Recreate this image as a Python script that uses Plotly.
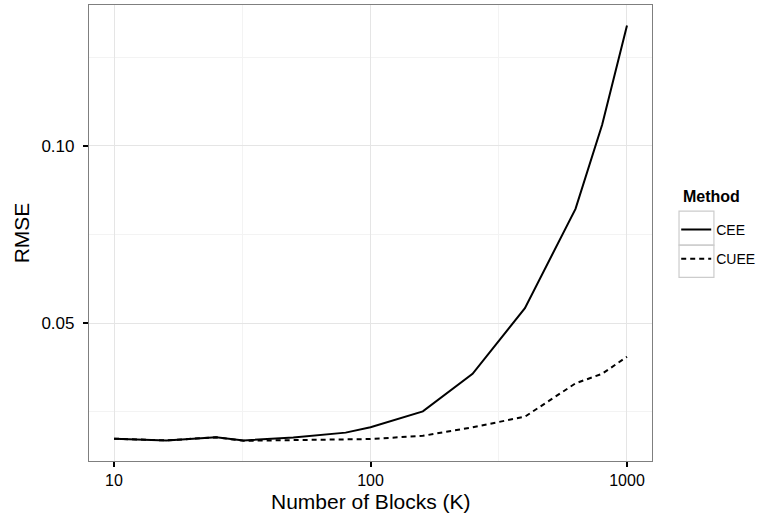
import plotly.graph_objects as go

# ---- data ----
blocks = [10, 16, 25, 32, 50, 63, 80, 100, 160, 250, 400, 630, 800, 1000]
rmse_cee = [0.0174, 0.0169, 0.0178, 0.0169, 0.0177, 0.0183, 0.0191, 0.0206, 0.0251,
            0.0357, 0.0542, 0.0822, 0.1059, 0.1339]
rmse_cuee = [0.0174, 0.0169, 0.0178, 0.0168, 0.0170, 0.0171, 0.0172, 0.0173, 0.0182,
             0.0206, 0.0236, 0.0330, 0.0357, 0.0405]
methods = ["CEE", "CUEE"]
legend_title = "Method"
x_title = "Number of Blocks (K)"
y_title = "RMSE"
x_ticks = [10, 100, 1000]
x_tick_labels = ["10", "100", "1000"]
y_ticks = [0.05, 0.10]
y_tick_labels = ["0.05", "0.10"]
x_minor = [31.6228, 316.228]
y_minor = [0.025, 0.075, 0.125]

FONT = "Liberation Sans, Arial, Helvetica, sans-serif"

fig = go.Figure()
fig.add_trace(go.Scatter(x=blocks, y=rmse_cee, mode="lines", name=methods[0],
                         legendgroup="a",
                         line=dict(color="black", width=2, dash="solid")))
fig.add_trace(go.Scatter(x=blocks, y=rmse_cuee, mode="lines", name=methods[1],
                         legendgroup="b",
                         line=dict(color="black", width=2, dash="5px,4px")))

fig.update_layout(
    width=773, height=518,
    margin=dict(l=89, r=121, t=5, b=57),
    paper_bgcolor="white", plot_bgcolor="white",
    font=dict(family=FONT, color="black"),
    showlegend=True,
    legend=dict(
        font=dict(size=14, family=FONT),
        x=1.043, xanchor="left", y=0.542, yanchor="top",
        bgcolor="rgba(0,0,0,0)", borderwidth=0,
        tracegroupgap=8, itemwidth=30,
    ),
    annotations=[
        dict(text="<b>%s</b>" % legend_title, xref="paper", yref="paper",
             x=1.051, y=0.581, xanchor="left", yanchor="middle", showarrow=False,
             font=dict(size=16, family=FONT, color="black")),
        dict(text=x_title, xref="paper", yref="paper",
             x=0.5, y=-0.0599, xanchor="center", yanchor="top", showarrow=False,
             font=dict(size=21, family=FONT, color="black")),
    ],
    shapes=[
        dict(type="rect", xref="paper", yref="paper", x0=1.048, x1=1.110,
             y0=0.4733, y1=0.548, line=dict(color="#cccccc", width=1.2),
             layer="below"),
        dict(type="rect", xref="paper", yref="paper", x0=1.048, x1=1.110,
             y0=0.4025, y1=0.4733, line=dict(color="#cccccc", width=1.2),
             layer="below"),
    ],
)

fig.update_xaxes(
    type="log", range=[0.9025, 3.0975],
    tickmode="array", tickvals=x_ticks, ticktext=x_tick_labels,
    ticks="outside", ticklen=5, tickwidth=1.5, tickcolor="black",
    tickfont=dict(size=16, color="black"),
    showgrid=True, gridcolor="#e5e5e5", gridwidth=1,
    minor=dict(tickmode="array", tickvals=x_minor, showgrid=True,
               gridcolor="#f3f3f3", gridwidth=1, ticks=""),
    showline=True, linecolor="#7f7f7f", linewidth=1.2, mirror=True,
    zeroline=False,
)
fig.update_yaxes(
    range=[0.0111, 0.1397],
    tickmode="array", tickvals=y_ticks, ticktext=y_tick_labels,
    ticks="outside", ticklen=5, tickwidth=1.5, tickcolor="black",
    tickfont=dict(size=17, color="black"), ticklabelstandoff=5,
    showgrid=True, gridcolor="#e5e5e5", gridwidth=1,
    minor=dict(tickmode="array", tickvals=y_minor, showgrid=True,
               gridcolor="#f3f3f3", gridwidth=1, ticks=""),
    showline=True, linecolor="#7f7f7f", linewidth=1.2, mirror=True,
    zeroline=False,
    title=dict(text=y_title, font=dict(size=21), standoff=6),
)

fig.write_html("out.html")
